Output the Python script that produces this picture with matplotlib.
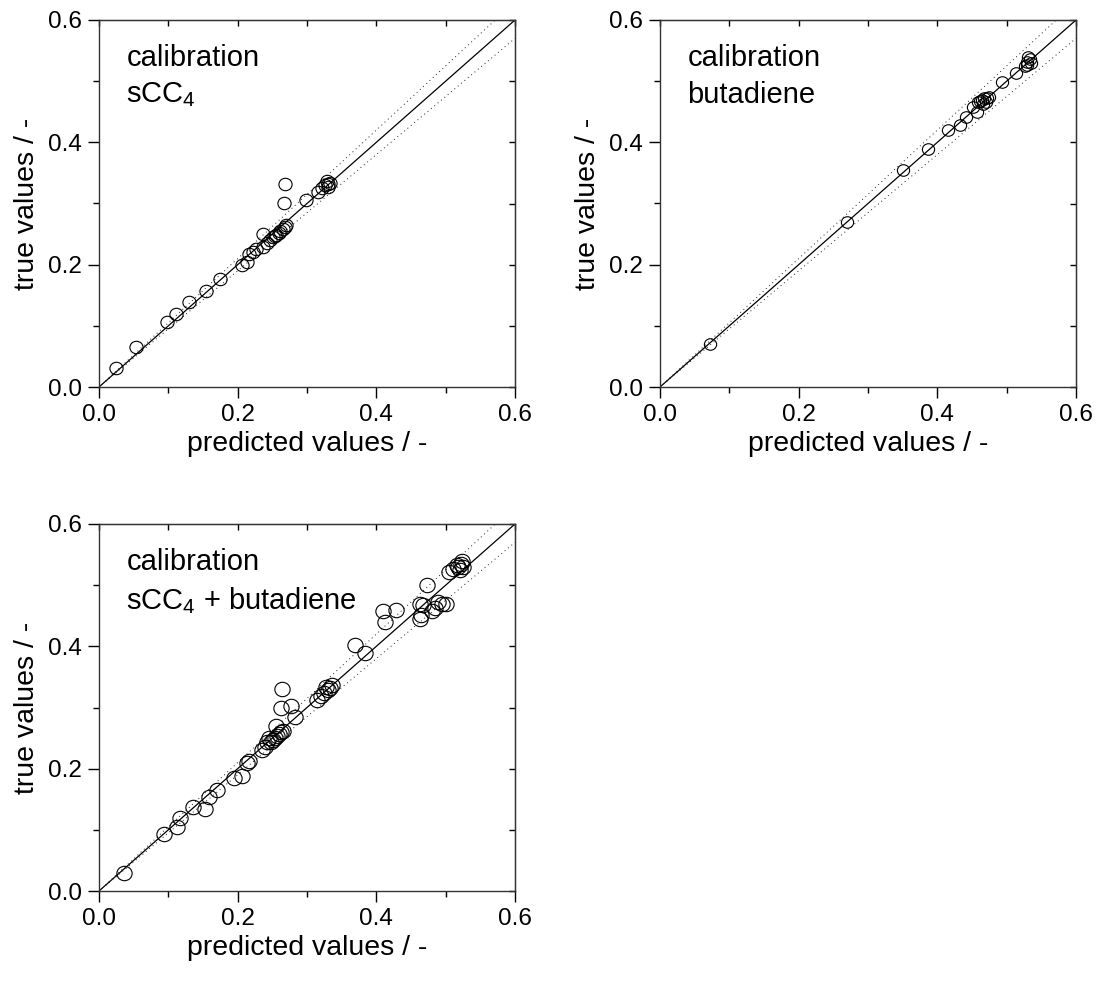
import matplotlib
matplotlib.use('Agg')
import matplotlib.pyplot as plt
import numpy as np
from matplotlib.path import Path
from matplotlib.transforms import Affine2D

plt.rcParams['font.family'] = ['Liberation Sans', 'DejaVu Sans']
plt.rcParams['mathtext.fontset'] = 'custom'
plt.rcParams['mathtext.rm'] = 'Liberation Sans'

# data (predicted, true)
pred_scc4 = [0.025, 0.054, 0.098, 0.111, 0.130, 0.155, 0.175, 0.206, 0.214, 0.217,
             0.222, 0.227, 0.236, 0.237, 0.242, 0.247, 0.251, 0.254, 0.256, 0.259,
             0.261, 0.265, 0.268, 0.270, 0.267, 0.268, 0.299, 0.316, 0.321, 0.326,
             0.329, 0.331, 0.333, 0.330]
true_scc4 = [0.031, 0.066, 0.106, 0.119, 0.139, 0.157, 0.177, 0.200, 0.204, 0.217,
             0.221, 0.225, 0.250, 0.229, 0.235, 0.240, 0.245, 0.247, 0.249, 0.252,
             0.255, 0.259, 0.262, 0.265, 0.300, 0.332, 0.305, 0.319, 0.325, 0.330,
             0.336, 0.332, 0.334, 0.327]

pred_buta = [0.072, 0.270, 0.351, 0.386, 0.416, 0.433, 0.442, 0.457, 0.452, 0.459,
             0.462, 0.465, 0.468, 0.471, 0.474, 0.466, 0.470, 0.493, 0.513, 0.526,
             0.529, 0.531, 0.533, 0.535, 0.530]
true_buta = [0.070, 0.270, 0.354, 0.389, 0.420, 0.429, 0.442, 0.450, 0.458, 0.466,
             0.468, 0.470, 0.472, 0.473, 0.474, 0.462, 0.466, 0.499, 0.514, 0.524,
             0.532, 0.540, 0.536, 0.530, 0.527]

pred_all = [0.036, 0.094, 0.112, 0.117, 0.136, 0.153, 0.159, 0.170, 0.194, 0.206,
            0.213, 0.216, 0.235, 0.239, 0.242, 0.245, 0.248, 0.251, 0.254, 0.257,
            0.260, 0.263, 0.266, 0.256, 0.263, 0.264, 0.277, 0.283, 0.315, 0.320,
            0.324, 0.328, 0.330, 0.333, 0.336, 0.369, 0.384, 0.410, 0.413, 0.429,
            0.463, 0.465, 0.463, 0.473, 0.480, 0.485, 0.489, 0.494, 0.501, 0.468,
            0.505, 0.511, 0.516, 0.523, 0.520, 0.518, 0.522, 0.525]
true_all = [0.030, 0.094, 0.104, 0.119, 0.138, 0.134, 0.154, 0.165, 0.184, 0.188,
            0.210, 0.213, 0.230, 0.236, 0.244, 0.250, 0.243, 0.247, 0.250, 0.253,
            0.256, 0.260, 0.262, 0.269, 0.299, 0.331, 0.302, 0.285, 0.312, 0.318,
            0.323, 0.334, 0.328, 0.332, 0.336, 0.402, 0.389, 0.457, 0.440, 0.459,
            0.444, 0.451, 0.470, 0.500, 0.457, 0.462, 0.473, 0.470, 0.469, 0.468,
            0.521, 0.527, 0.533, 0.539, 0.525, 0.530, 0.535, 0.530]

panel_texts = ['calibration\n$\\mathregular{sCC_4}$',
               'calibration\nbutadiene',
               'calibration\n$\\mathregular{sCC_4}$ + butadiene']

# slightly wide circle, the reference is stretched a bit horizontally
ell = Path(Affine2D().scale(1.06, 1.0).transform(Path.unit_circle().vertices),
           Path.unit_circle().codes)

fig = plt.figure(figsize=(10.99, 9.82), dpi=100)
W, H = 1099., 982.
pos = [(99, 20), (660, 20), (99, 524)]   # left/top pixel of each axes
aw, ah = 416, 367

def make_ax(px, py):
    ax = fig.add_axes([px / W, 1 - (py + ah) / H, aw / W, ah / H])
    ax.set_xlim(0, 0.6)
    ax.set_ylim(0, 0.6)
    ax.set_xticks([0, 0.2, 0.4, 0.6])
    ax.set_yticks([0, 0.2, 0.4, 0.6])
    ax.set_xticks([0.1, 0.3, 0.5], minor=True)
    ax.set_yticks([0.1, 0.3, 0.5], minor=True)
    ax.xaxis.set_major_formatter(plt.FormatStrFormatter('%.1f'))
    ax.yaxis.set_major_formatter(plt.FormatStrFormatter('%.1f'))
    ax.tick_params(which='major', direction='out', length=8, width=1, labelsize=17.5, pad=4)
    ax.tick_params(which='minor', direction='out', length=4, width=1)
    for s in ax.spines.values():
        s.set_linewidth(1)
        s.set_color('#333333')
    # top and right: short inward ticks every 0.1
    top = ax.secondary_xaxis('top')
    top.set_xticks(np.arange(0, 0.61, 0.1))
    top.tick_params(direction='in', length=4, width=1, labeltop=False)
    right = ax.secondary_yaxis('right')
    right.set_yticks(np.arange(0, 0.61, 0.1))
    right.tick_params(direction='in', length=4, width=1, labelright=False)
    ax.set_xlabel('predicted values / -', fontsize=20.5, labelpad=4)
    ax.set_ylabel('true values / -', fontsize=20.5, labelpad=6)
    xx = np.array([0, 0.6])
    ax.plot(xx, xx, color='black', lw=0.9, zorder=2)
    ax.plot(xx, xx * 1.05, color='#222222', lw=0.7, ls=(0, (1, 3.5)), zorder=2)
    ax.plot(xx, xx * 0.95, color='#222222', lw=0.7, ls=(0, (1, 3.5)), zorder=2)
    return ax

sets = [(pred_scc4, true_scc4, 9.5), (pred_buta, true_buta, 8.8), (pred_all, true_all, 11)]
for (px, py), (xp, yt, ms), txt in zip(pos, sets, panel_texts):
    ax = make_ax(px, py)
    ax.plot(xp, yt, ls='none', marker=ell, ms=ms, mfc='none', mec='black', mew=0.8, zorder=3)
    ax.text(0.066, 0.935, txt, transform=ax.transAxes, fontsize=21, va='top', ha='left',
            linespacing=1.4)

fig.savefig('out.png', dpi=100)
